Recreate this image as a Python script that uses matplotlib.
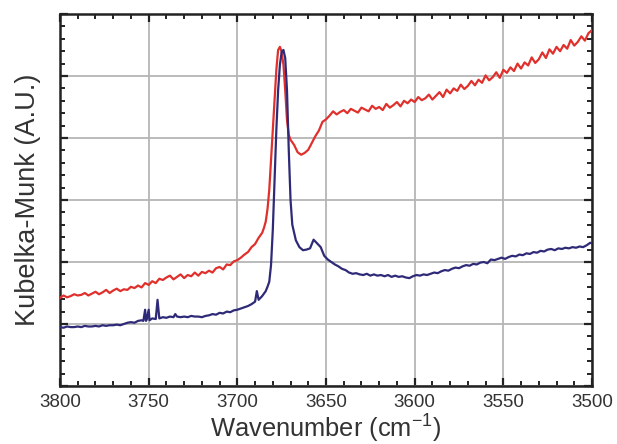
import matplotlib
matplotlib.use("Agg")
import matplotlib.pyplot as plt
from matplotlib.ticker import MultipleLocator, NullFormatter

# ---------------- data ----------------
red_x = [3800, 3798, 3796, 3794, 3792, 3790, 3788, 3786, 3784, 3782, 3780, 3778, 3776, 3774,
         3772, 3770, 3768, 3766, 3764, 3762, 3760, 3758, 3756, 3754, 3752, 3750, 3748, 3746,
         3744, 3742, 3740, 3738, 3736, 3734, 3732, 3730, 3728, 3726, 3724, 3722, 3720, 3718,
         3716, 3714, 3712, 3710, 3708, 3706, 3704, 3702, 3700, 3698, 3696, 3694, 3692, 3690,
         3688, 3686, 3685, 3684, 3683, 3682, 3681, 3680, 3679, 3678, 3677, 3676, 3675, 3674,
         3673, 3672, 3671, 3670, 3668, 3666, 3664, 3662, 3660, 3658, 3656, 3654, 3652, 3650,
         3648, 3646, 3644, 3642, 3640, 3638, 3636, 3634, 3632, 3630,
         3628, 3626, 3624, 3622, 3620, 3618, 3616, 3614, 3612, 3610,
         3608, 3606, 3604, 3602, 3600, 3598, 3596, 3594, 3592, 3590,
         3588, 3586, 3584, 3582, 3580, 3578, 3576, 3574, 3572, 3570,
         3568, 3566, 3564, 3562, 3560, 3558, 3556, 3554, 3552, 3550,
         3548, 3546, 3544, 3542, 3540, 3538, 3536, 3534, 3532, 3530,
         3528, 3526, 3524, 3522, 3520, 3518, 3516, 3514, 3512, 3510,
         3508, 3506, 3504, 3502, 3500]
red_y = [1.42, 1.46, 1.43, 1.45, 1.48, 1.46, 1.47, 1.50, 1.46, 1.49, 1.52, 1.48, 1.51, 1.55,
         1.50, 1.54, 1.57, 1.53, 1.56, 1.55, 1.60, 1.58, 1.62, 1.59, 1.66, 1.63, 1.69, 1.66,
         1.73, 1.71, 1.75, 1.78, 1.72, 1.76, 1.80, 1.74, 1.79, 1.77, 1.83, 1.78, 1.84, 1.82,
         1.86, 1.83, 1.90, 1.92, 1.88, 1.96, 1.95, 2.01, 2.03, 2.07, 2.12, 2.16, 2.24, 2.29,
         2.39, 2.47, 2.55, 2.65, 2.85, 3.16, 3.65, 4.13, 4.65, 5.10, 5.42, 5.47, 5.39, 5.18,
         4.77, 4.29, 4.05, 3.97, 3.89, 3.77, 3.73, 3.76, 3.81, 3.92, 4.03, 4.12, 4.26, 4.30,
         4.36, 4.43, 4.38, 4.42, 4.45, 4.40, 4.47, 4.44, 4.41, 4.49,
         4.46, 4.43, 4.52, 4.47, 4.50, 4.45, 4.55, 4.49, 4.53, 4.58,
         4.51, 4.60, 4.56, 4.62, 4.58, 4.66, 4.61, 4.64, 4.70, 4.62,
         4.68, 4.74, 4.66, 4.78, 4.72, 4.80, 4.76, 4.86, 4.79, 4.84,
         4.92, 4.85, 4.94, 4.89, 5.01, 4.93, 4.98, 5.06, 4.97, 5.10,
         5.05, 5.14, 5.08, 5.20, 5.12, 5.22, 5.17, 5.30, 5.21, 5.27,
         5.38, 5.29, 5.43, 5.36, 5.47, 5.40, 5.50, 5.44, 5.58, 5.49,
         5.55, 5.64, 5.57, 5.69, 5.74]

blue_x = [3800, 3798, 3796, 3794, 3792, 3790, 3788, 3786, 3784, 3782, 3780, 3778, 3776, 3774,
          3772, 3770, 3768, 3766, 3764, 3762, 3760, 3758, 3756, 3754, 3753, 3752, 3751.5, 3751,
          3750, 3749.5, 3748, 3746, 3745, 3744, 3742, 3740, 3738, 3736, 3735, 3734, 3732, 3730,
          3728, 3726, 3724, 3722, 3720, 3718, 3716, 3714, 3712, 3710, 3708, 3706, 3704, 3702,
          3700, 3698, 3696, 3694, 3692, 3690, 3689, 3688, 3686, 3684, 3683, 3682, 3681, 3680,
          3679, 3678, 3677, 3676, 3675, 3674, 3673, 3672, 3671, 3670, 3669, 3667, 3665, 3663,
          3661, 3659, 3657, 3655, 3653, 3651, 3649, 3647, 3645, 3643, 3641, 3639, 3637, 3635,
          3633, 3631, 3629, 3627, 3625, 3623, 3621, 3619, 3617, 3615, 3613, 3611, 3609, 3607,
          3605, 3603, 3601, 3599, 3597, 3595, 3593, 3591, 3589, 3587, 3585, 3583, 3581, 3579,
          3577, 3575, 3573, 3571, 3569, 3567, 3565, 3563, 3561, 3559, 3557, 3555, 3553, 3551,
          3549, 3547, 3545, 3543, 3541, 3539, 3537, 3535, 3533, 3531, 3529, 3527, 3525, 3523,
          3521, 3519, 3517, 3515, 3513, 3511, 3509, 3507, 3505, 3503, 3501, 3500]
blue_y = [0.95, 0.94, 0.96, 0.95, 0.95, 0.96, 0.95, 0.97, 0.96, 0.96, 0.97, 0.96, 0.98, 0.97,
          0.98, 0.98, 0.99, 0.98, 1.00, 1.02, 1.03, 1.02, 1.05, 1.06, 1.05, 1.23, 1.05, 1.08,
          1.23, 1.06, 1.09, 1.08, 1.39, 1.09, 1.11, 1.10, 1.12, 1.11, 1.16, 1.12, 1.11, 1.12,
          1.11, 1.13, 1.12, 1.12, 1.11, 1.13, 1.14, 1.16, 1.15, 1.18, 1.17, 1.20, 1.19, 1.22,
          1.23, 1.25, 1.27, 1.29, 1.32, 1.36, 1.53, 1.39, 1.45, 1.53, 1.60, 1.68, 1.95, 2.52,
          3.32, 4.13, 4.77, 5.18, 5.39, 5.42, 5.29, 4.77, 3.81, 3.00, 2.60, 2.35, 2.24, 2.19,
          2.20, 2.22, 2.36, 2.30, 2.24, 2.10, 2.04, 2.00, 1.96, 1.93, 1.89, 1.87, 1.83, 1.81,
          1.82, 1.80, 1.79, 1.81, 1.78, 1.80, 1.78, 1.79, 1.77, 1.79, 1.76, 1.78, 1.76, 1.77,
          1.75, 1.74, 1.77, 1.79, 1.78, 1.80, 1.79, 1.81, 1.83, 1.82, 1.85, 1.87, 1.86, 1.89,
          1.91, 1.90, 1.93, 1.95, 1.94, 1.97, 1.96, 1.99, 2.00, 1.98, 2.04, 2.03, 2.05, 2.07,
          2.05, 2.08, 2.10, 2.09, 2.12, 2.11, 2.14, 2.13, 2.16, 2.15, 2.18, 2.17, 2.20, 2.21,
          2.19, 2.22, 2.21, 2.23, 2.22, 2.24, 2.23, 2.25, 2.24, 2.27, 2.31, 2.30]

x_ticks = [3800, 3750, 3700, 3650, 3600, 3550, 3500]
x_label = "Wavenumber (cm$^{-1}$)"
y_label = "Kubelka-Munk (A.U.)"

# ---------------- plot ----------------
plt.rcParams['font.family'] = ['Liberation Sans', 'DejaVu Sans']
plt.rcParams['mathtext.fontset'] = 'custom'
plt.rcParams['mathtext.rm'] = 'Liberation Sans'
plt.rcParams['mathtext.it'] = 'Liberation Sans'

fig = plt.figure(figsize=(6.17, 4.44), dpi=100)
ax = fig.add_axes([60/617, 58/444, 532/617, 372/444])

ax.plot(red_x, red_y, color='#e0302c', lw=1.6, zorder=3)
ax.plot(blue_x, blue_y, color='#2e2a78', lw=1.6, zorder=3)

ax.set_xlim(3800, 3500)
ax.set_ylim(0, 6)
ax.set_xticks(x_ticks)
ax.xaxis.set_minor_locator(MultipleLocator(10))
ax.yaxis.set_major_locator(MultipleLocator(1))
ax.yaxis.set_minor_locator(MultipleLocator(0.2))
ax.yaxis.set_major_formatter(NullFormatter())

ax.grid(True, which='major', color='#b5b5b5', lw=1.3)
ax.set_axisbelow(True)

ax.tick_params(which='both', direction='in', top=True, right=True, color='#222222')
ax.tick_params(which='major', length=6, width=1.6, labelsize=13.5, labelcolor='#333333', pad=6)
ax.tick_params(which='minor', length=3.5, width=1.4)
for s in ax.spines.values():
    s.set_linewidth(1.8)
    s.set_color('#222222')

ax.set_xlabel(x_label, fontsize=18.4, color='#333333', labelpad=1)
ax.set_ylabel(y_label, fontsize=19.5, color='#333333', labelpad=8)

fig.savefig('out.png', dpi=100, facecolor='white')
